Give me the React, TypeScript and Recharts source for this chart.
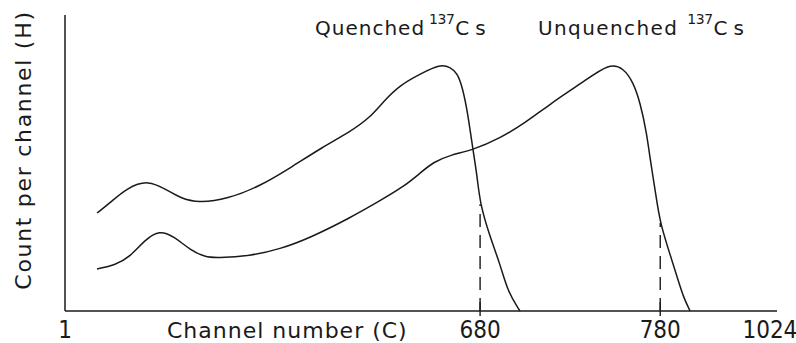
import React from 'react';
import { LineChart, Line, XAxis, YAxis, ReferenceLine } from 'recharts';

// x: position along the (schematic) channel axis, 0..100 ; y: relative count 0..100
const quenchedX = [4.5, 6.3, 8.7, 11.7, 14.3, 16.2, 18.7, 22.8, 27.4, 31.6, 36.2, 40.0, 42.8, 44.9, 47.1, 49.9, 52.7, 54.1, 55.1, 55.8, 56.5, 57.3, 57.9, 58.3, 59.7, 61.1, 62.2, 63.9];
const quenchedY = [33.1, 36.5, 41.6, 44.3, 40.9, 38.2, 36.5, 37.8, 42.2, 48.3, 55.4, 60.5, 65.2, 71.3, 76.4, 80.1, 83.4, 82.4, 80.4, 75.7, 67.9, 54.4, 45.3, 36.1, 25.0, 15.9, 6.4, 0];

const unquenchedX = [4.5, 7.0, 9.1, 11.2, 13.3, 15.4, 17.6, 19.7, 21.3, 26.0, 30.2, 34.4, 40.0, 44.2, 47.5, 49.9, 51.7, 54.1, 57.3, 61.1, 64.6, 68.1, 72.8, 76.5, 78.4, 79.8, 80.8, 81.7, 82.2, 83.1, 83.6, 85.0, 86.1, 86.9, 87.8];
const unquenchedY = [14.2, 15.5, 18.2, 24.0, 27.4, 25.0, 20.6, 18.2, 17.9, 18.6, 20.9, 24.7, 31.4, 37.2, 41.9, 46.6, 50.3, 52.7, 54.4, 58.4, 63.5, 69.9, 77.4, 83.8, 82.1, 77.4, 70.3, 60.1, 51.0, 37.5, 29.7, 18.9, 10.5, 4.4, 0];

const tickPositions = [0, 58.3, 83.6, 99];
const tickLabels = ['1', '680', '780', '1024'];
const tickMarked = [false, true, true, false];

const markerX = [58.3, 83.6];
const markerTop = [36.1, 29.7];

const quenchedData = quenchedX.map((x, i) => ({ x, y: quenchedY[i] }));
const unquenchedData = unquenchedX.map((x, i) => ({ x, y: unquenchedY[i] }));

const INK = '#1a1a1a';
const FONT = "'DejaVu Sans', sans-serif";
const CFONT = "'DejaVu Sans Condensed', 'Liberation Sans Narrow', 'DejaVu Sans', sans-serif";

const AxisTick = (props: any) => {
  const { x, y, payload } = props;
  const idx = tickPositions.indexOf(payload.value);
  return (
    <g>
      {tickMarked[idx] && <line x1={x} x2={x} y1={y - 9} y2={y + 5} stroke={INK} strokeWidth={1.4} />}
      <text x={x} y={y + 27} textAnchor="middle" fontFamily={CFONT} fontStretch="condensed" fontSize={24} fill={INK}>
        {tickLabels[idx]}
      </text>
    </g>
  );
};

export default function App() {
  return (
    <div style={{ position: 'absolute', left: 0, top: 0, width: 796, height: 343, background: '#fff' }}>
      <LineChart width={796} height={343} margin={{ top: 15, right: 19, bottom: 0, left: 0 }}>
        <XAxis
          type="number"
          dataKey="x"
          domain={[0, 100]}
          ticks={tickPositions}
          tick={<AxisTick />}
          tickLine={false}
          tickSize={0}
          tickMargin={0}
          height={32}
          axisLine={{ stroke: INK, strokeWidth: 1.5 }}
          allowDataOverflow
        />
        <YAxis
          type="number"
          dataKey="y"
          domain={[0, 100]}
          width={65}
          tick={false}
          tickLine={false}
          axisLine={{ stroke: INK, strokeWidth: 1.5 }}
        />
        {markerX.map((mx, i) => (
          <ReferenceLine
            key={i}
            segment={[{ x: mx, y: 0 }, { x: mx, y: markerTop[i] }]}
            stroke={INK}
            strokeWidth={1.4}
            strokeDasharray="13 8"
          />
        ))}
        <Line data={quenchedData} dataKey="y" type="basis" stroke={INK} strokeWidth={1.5} dot={false} isAnimationActive={false} />
        <Line data={unquenchedData} dataKey="y" type="basis" stroke={INK} strokeWidth={1.5} dot={false} isAnimationActive={false} />
      </LineChart>
      <svg width={796} height={343} style={{ position: 'absolute', left: 0, top: 0, pointerEvents: 'none' }}>
        <text x={315} y={35} fontFamily={FONT} fontSize={20} letterSpacing={1} fill={INK}>
          Quenched
          <tspan dx={4} dy={-11} fontSize={14} letterSpacing={-0.5}>137</tspan>
          <tspan dx={1} dy={11} fontSize={20} letterSpacing={6}>Cs</tspan>
        </text>
        <text x={538} y={35} fontFamily={FONT} fontSize={20} letterSpacing={1.4} fill={INK}>
          Unquenched
          <tspan dx={9} dy={-11} fontSize={14} letterSpacing={-0.5}>137</tspan>
          <tspan dx={1} dy={11} fontSize={20} letterSpacing={6}>Cs</tspan>
        </text>
        <text x={167} y={338} fontFamily={FONT} fontSize={22} letterSpacing={1} fill={INK}>
          Channel number (C)
        </text>
        <text transform="translate(31,150) rotate(-90)" textAnchor="middle" fontFamily={FONT} fontSize={22} letterSpacing={1.7} fill={INK}>
          Count per channel (H)
        </text>
      </svg>
    </div>
  );
}
